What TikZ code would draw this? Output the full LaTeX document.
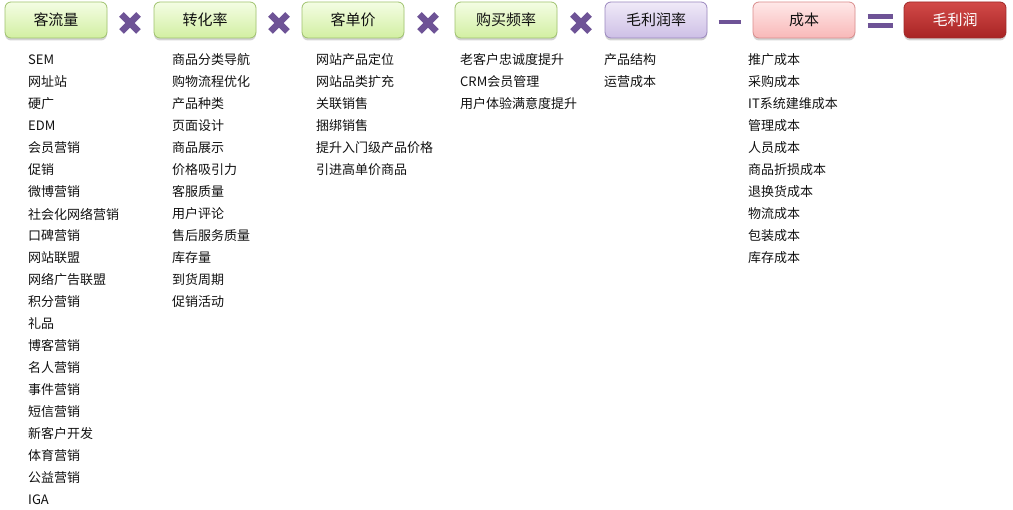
\documentclass[tikz,border=0pt]{standalone}
\usepackage{fontspec}
\setmainfont{Noto Sans CJK SC}
\usetikzlibrary{shadows}
\definecolor{opc}{HTML}{6E5396}
\definecolor{gtop}{HTML}{F4FDE4}
\definecolor{gbot}{HTML}{D2EFA2}
\definecolor{gdraw}{HTML}{9FC26E}
\definecolor{ptop}{HTML}{F0EAF8}
\definecolor{pbot}{HTML}{CDBFE6}
\definecolor{pdraw}{HTML}{9A87BE}
\definecolor{rtop}{HTML}{FFE8E8}
\definecolor{rbot}{HTML}{F8B8B8}
\definecolor{rdraw}{HTML}{D98C8C}
\definecolor{dtop}{HTML}{D24A48}
\definecolor{dbot}{HTML}{A82424}
\definecolor{ddraw}{HTML}{A02828}
\definecolor{txt}{HTML}{111111}
\begin{document}
\begin{tikzpicture}[x=1pt,y=-1pt,
  hbox/.style={rounded corners=6pt, minimum width=102pt, minimum height=36pt, inner sep=0pt,
     font=\fontsize{15}{15}\selectfont, text=txt, line width=0.8pt,
     drop shadow={shadow xshift=0pt, shadow yshift=-2.5pt, opacity=0.35}},
  gbox/.style={hbox, draw=gdraw, top color=gtop, bottom color=gbot},
  pbox/.style={hbox, draw=pdraw, top color=ptop, bottom color=pbot},
  rbox/.style={hbox, draw=rdraw, top color=rtop, bottom color=rbot},
  dbox/.style={hbox, draw=ddraw, top color=dtop, bottom color=dbot, text=white},
  item/.style={anchor=west, inner sep=0pt, font=\fontsize{13}{13}\selectfont, text=txt},
  opline/.style={draw=opc, line width=6.5pt},
  opbar/.style={draw=opc, line width=4.5pt}
]
\useasboundingbox (0,0) rectangle (1013,510);
\node[gbox] (b1) at (56,20) {客流量};
\node[gbox] (b2) at (205,20) {转化率};
\node[gbox] (b3) at (353,20) {客单价};
\node[gbox] (b4) at (506,20) {购买频率};
\node[pbox] (b5) at (656,20) {毛利润率};
\node[rbox] (b6) at (804,20) {成本};
\node[dbox] (b7) at (955,20) {毛利润};
% operators
\foreach \cx/\nm in {130/m1,279/m2,428/m3,581/m4}{
  \coordinate (\nm) at (\cx,23);
  \draw[opline] ([shift={(-8.5,-8.5)}]\nm) -- ([shift={(8.5,8.5)}]\nm);
  \draw[opline] ([shift={(-8.5,8.5)}]\nm) -- ([shift={(8.5,-8.5)}]\nm);
}
\coordinate (mi) at (729.5,22);
\draw[opbar] ([xshift=-11pt]mi) -- ([xshift=11pt]mi);
\coordinate (eq) at (880,21);
\draw[opbar] ([shift={(-12.5,-4.5)}]eq) -- ([shift={(12.5,-4.5)}]eq);
\draw[opbar] ([shift={(-12.5,4.5)}]eq) -- ([shift={(12.5,4.5)}]eq);
% lists
\foreach \t [count=\i] in {SEM,网址站,硬广,EDM,会员营销,促销,微博营销,社会化网络营销,口碑营销,网站联盟,网络广告联盟,积分营销,礼品,博客营销,名人营销,事件营销,短信营销,新客户开发,体育营销,公益营销,IGA}
  \node[item] (a\i) at (28,{38+22*\i}) {\t};
\foreach \t [count=\i] in {商品分类导航,购物流程优化,产品种类,页面设计,商品展示,价格吸引力,客服质量,用户评论,售后服务质量,库存量,到货周期,促销活动}
  \node[item] (c\i) at (172,{38+22*\i}) {\t};
\foreach \t [count=\i] in {网站产品定位,网站品类扩充,关联销售,捆绑销售,提升入门级产品价格,引进高单价商品}
  \node[item] (d\i) at (316,{38+22*\i}) {\t};
\foreach \t [count=\i] in {老客户忠诚度提升,CRM会员管理,用户体验满意度提升}
  \node[item] (e\i) at (460,{38+22*\i}) {\t};
\foreach \t [count=\i] in {产品结构,运营成本}
  \node[item] (f\i) at (604,{38+22*\i}) {\t};
\foreach \t [count=\i] in {推广成本,采购成本,IT系统建维成本,管理成本,人员成本,商品折损成本,退换货成本,物流成本,包装成本,库存成本}
  \node[item] (g\i) at (748,{38+22*\i}) {\t};
\end{tikzpicture}
\end{document}
